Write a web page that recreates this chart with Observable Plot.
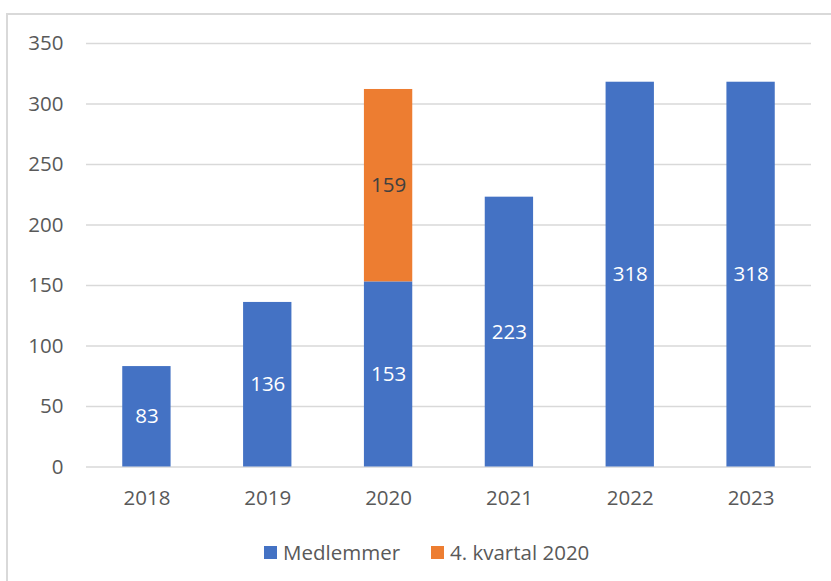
<!DOCTYPE html>
<html>
<head>
<meta charset="utf-8">
<script src="https://cdn.jsdelivr.net/npm/d3@7"></script>
<script src="https://cdn.jsdelivr.net/npm/@observablehq/plot@0.6"></script>
<style>
  html, body { margin: 0; padding: 0; background: #fff; }
  body { width: 831px; height: 581px; position: relative; overflow: hidden; font-family: "Open Sans", sans-serif; }
  #frame { position: absolute; left: 6px; top: 13px; width: 840px; height: 600px; border-top: 2px solid #d9d9d9; border-left: 2px solid #d9d9d9; box-sizing: border-box; }
  #chart { position: absolute; left: 0; top: 0; }
  #legend { position: absolute; left: 264px; top: 538px; display: flex; align-items: center; font-size: 20.5px; color: #595959; white-space: nowrap; }
  .item { display: flex; align-items: center; }
  .sw { width: 13px; height: 13px; margin-right: 6px; }
</style>
</head>
<body>
<div id="frame"></div>
<div id="chart"></div>
<div id="legend"></div>
<script>
const years = ["2018", "2019", "2020", "2021", "2022", "2023"];
const medlemmer = [83, 136, 153, 223, 318, 318];
const kvartal = [null, null, 159, null, null, null];
const seriesNames = ["Medlemmer", "4. kvartal 2020"];
const seriesColors = ["#4472C4", "#ED7D31"];
const labelColors = ["#ffffff", "#404040"];
const yTicks = [0, 50, 100, 150, 200, 250, 300, 350];

const rows = [];
years.forEach((yr, i) => {
  rows.push({year: yr, series: seriesNames[0], value: medlemmer[i]});
  if (kvartal[i] != null) rows.push({year: yr, series: seriesNames[1], value: kvartal[i]});
});

const stackOpts = {x: "year", y: "value", z: "series", order: seriesNames};

const plot = Plot.plot({
  width: 831,
  height: 520,
  marginLeft: 86,
  marginRight: 20,
  marginTop: 43,
  marginBottom: 53.5,
  style: {fontFamily: "'Open Sans', sans-serif", fontSize: "20.5px", color: "#595959", background: "transparent", overflow: "visible"},
  x: {domain: years, paddingInner: 0.6, paddingOuter: 0.3, round: false, label: null},
  y: {domain: [0, 350], label: null},
  color: {domain: seriesNames, range: seriesColors},
  marks: [
    Plot.gridY(yTicks, {stroke: "#d9d9d9", strokeOpacity: 1, strokeWidth: 1.5}),
    Plot.barY(rows, Plot.stackY({...stackOpts, fill: "series"})),
    ...seriesNames.map((s, i) =>
      Plot.text(rows, Plot.stackY({...stackOpts, text: d => d.series === s ? String(d.value) : "", fill: labelColors[i]}))
    ),
    Plot.axisY(yTicks, {tickSize: 0, tickPadding: 23, fill: "#595959", label: null}),
    Plot.axisX({tickSize: 0, tickPadding: 23, fill: "#595959", label: null})
  ]
});
document.getElementById("chart").appendChild(plot);

const legend = document.getElementById("legend");
seriesNames.forEach((name, i) => {
  const item = document.createElement("div");
  item.className = "item";
  if (i > 0) item.style.marginLeft = "31px";
  const sw = document.createElement("div");
  sw.className = "sw";
  sw.style.background = seriesColors[i];
  const label = document.createElement("span");
  label.textContent = name;
  item.appendChild(sw);
  item.appendChild(label);
  legend.appendChild(item);
});
</script>
</body>
</html>
